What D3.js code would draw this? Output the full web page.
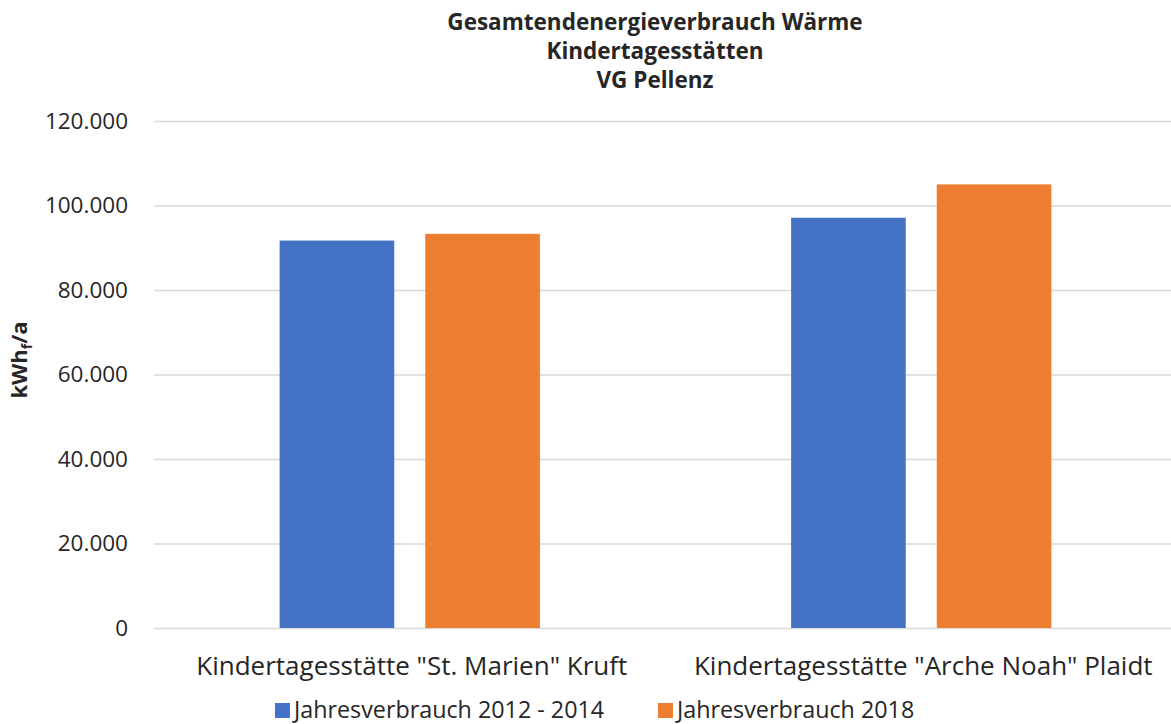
<!DOCTYPE html>
<html>
<head>
<meta charset="utf-8">
<script src="https://cdn.jsdelivr.net/npm/d3@7"></script>
<style>
    body { margin: 0; background: #fff; }
    text { font-family: "Open Sans", sans-serif; fill: #262626; }
</style>
</head>
<body>
<svg id="chart" width="1171" height="724"></svg>
<script>
'use strict';

// chart data
const categories = ['Kindertagesstätte "St. Marien" Kruft', 'Kindertagesstätte "Arche Noah" Plaidt'];
const seriesNames = ['Jahresverbrauch 2012 - 2014', 'Jahresverbrauch 2018'];
const values2012_2014 = [91700, 97100];
const values2018 = [93300, 105000];
const yTicks = [0, 20000, 40000, 60000, 80000, 100000, 120000];
const titleLines = ['Gesamtendenergieverbrauch Wärme', 'Kindertagesstätten', 'VG Pellenz'];
const colors = ['#4472C4', '#ED7D31'];

const svg = d3.select('#chart');
const margin = {top: 121, left: 154, bottom: 96, right: -6};
const width = 1171 - margin.left - margin.right;
const height = 724 - margin.top - margin.bottom;

const g = svg.append('g').attr('transform', 'translate(' + margin.left + ',' + margin.top + ')');

const x0 = d3.scaleBand().domain(categories).range([0, width]);
const x1 = d3.scaleBand().domain(seriesNames).range([0, x0.bandwidth()])
    .paddingInner(0.213).paddingOuter(0.8625);
const y = d3.scaleLinear().domain([0, 120000]).range([height, 0]);

const fmt = d3.formatLocale({decimal: ',', thousands: '.', grouping: [3], currency: ['', '€']}).format(',');

// gridlines + tick labels
const yAxis = d3.axisLeft(y).tickValues(yTicks).tickSize(-width).tickFormat(fmt).tickPadding(26);
const ya = g.append('g').call(yAxis);
ya.select('.domain').remove();
ya.selectAll('.tick line').attr('stroke', '#d9d9d9').attr('stroke-width', 1.3);
ya.selectAll('.tick text').style('font-size', '22.5px').attr('fill', '#404040');

// bars
const rows = categories.map(function (c, i) {
    return {cat: c, vals: [values2012_2014[i], values2018[i]]};
});

g.selectAll('.group')
    .data(rows)
    .enter().append('g')
    .attr('class', 'group')
    .attr('transform', function (d) { return 'translate(' + x0(d.cat) + ',0)'; })
    .selectAll('rect')
    .data(function (d) { return d.vals.map(function (v, i) { return {s: seriesNames[i], v: v, i: i}; }); })
    .enter().append('rect')
    .attr('x', function (d) { return x1(d.s); })
    .attr('width', x1.bandwidth())
    .attr('y', function (d) { return y(d.v); })
    .attr('height', function (d) { return height - y(d.v); })
    .attr('fill', function (d) { return colors[d.i]; });

// category labels
g.selectAll('.cat')
    .data(categories)
    .enter().append('text')
    .attr('class', 'cat')
    .attr('x', function (d) { return x0(d) + x0.bandwidth() / 2 + 2; })
    .attr('y', height + 47)
    .attr('text-anchor', 'middle')
    .style('font-size', '26px')
    .attr('fill', '#262626')
    .text(function (d) { return d; });

// title
svg.selectAll('.title')
    .data(titleLines)
    .enter().append('text')
    .attr('class', 'title')
    .attr('x', 655)
    .attr('y', function (d, i) { return 30 + i * 29; })
    .attr('text-anchor', 'middle')
    .style('font-size', '22.5px')
    .style('font-weight', 'bold')
    .attr('fill', '#000')
    .text(function (d) { return d; });

// y axis label with subscript
const yl = svg.append('text')
    .attr('transform', 'translate(27,360) rotate(-90)')
    .attr('text-anchor', 'middle')
    .style('font-size', '22px')
    .style('font-weight', 'bold')
    .attr('fill', '#000');
yl.append('tspan').text('kWh');
yl.append('tspan').attr('dy', 5).style('font-size', '14px').text('f');
yl.append('tspan').attr('dy', -5).text('/a');

// legend
const legendX = [275, 658];
const legend = svg.selectAll('.legend')
    .data(seriesNames)
    .enter().append('g')
    .attr('class', 'legend')
    .attr('transform', function (d, i) { return 'translate(' + legendX[i] + ',703)'; });
legend.append('rect')
    .attr('width', 15).attr('height', 15)
    .attr('fill', function (d, i) { return colors[i]; });
legend.append('text')
    .attr('x', 19).attr('y', 15)
    .style('font-size', '23.3px')
    .attr('fill', '#262626')
    .text(function (d) { return d; });
</script>
</body>
</html>
